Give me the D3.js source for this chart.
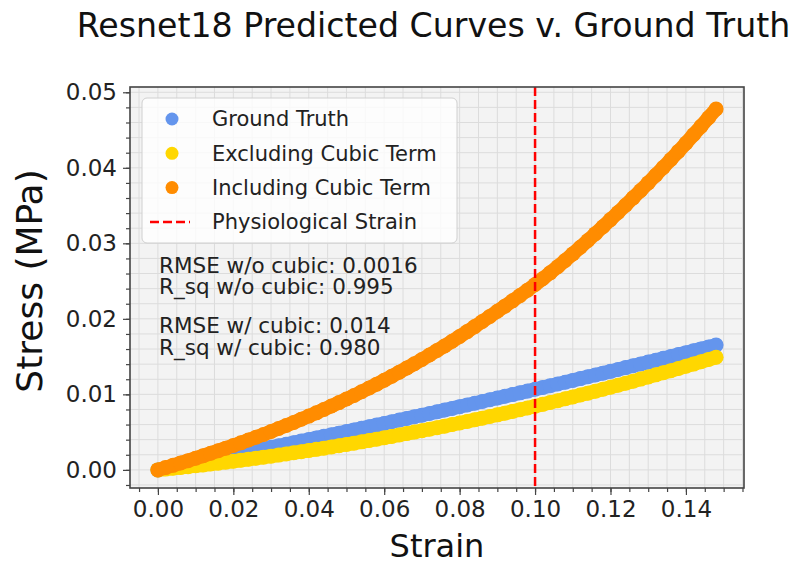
<!DOCTYPE html>
<html lang="en">
<head>
<meta charset="UTF-8">
<script src="https://d3js.org/d3.v7.min.js"></script>
<style>
  body { margin: 0; background: #fff; }
  svg { display: block; font-family: "DejaVu Sans", sans-serif; }
</style>
</head>
<body>
<svg width="794" height="564"></svg>
<script>
// strain samples (x) and the three stress curves
const strain = [0, 0.002, 0.004, 0.006, 0.008, 0.010, 0.012, 0.014, 0.016, 0.018,
  0.020, 0.022, 0.024, 0.026, 0.028, 0.030, 0.032, 0.034, 0.036, 0.038,
  0.040, 0.042, 0.044, 0.046, 0.048, 0.050, 0.052, 0.054, 0.056, 0.058,
  0.060, 0.062, 0.064, 0.066, 0.068, 0.070, 0.072, 0.074, 0.076, 0.078,
  0.080, 0.082, 0.084, 0.086, 0.088, 0.090, 0.092, 0.094, 0.096, 0.098,
  0.100, 0.102, 0.104, 0.106, 0.108, 0.110, 0.112, 0.114, 0.116, 0.118,
  0.120, 0.122, 0.124, 0.126, 0.128, 0.130, 0.132, 0.134, 0.136, 0.138,
  0.140, 0.142, 0.144, 0.146, 0.148];

const groundTruth = [0, 0.00019, 0.00039, 0.00058, 0.00078, 0.00097, 0.00117, 0.00137, 0.00157, 0.00177,
  0.00197, 0.00217, 0.00237, 0.00257, 0.00278, 0.00298, 0.00319, 0.00339, 0.00360, 0.00381,
  0.00402, 0.00423, 0.00444, 0.00465, 0.00486, 0.00507, 0.00529, 0.00550, 0.00572, 0.00593,
  0.00615, 0.00637, 0.00659, 0.00681, 0.00703, 0.00725, 0.00747, 0.00769, 0.00792, 0.00814,
  0.00837, 0.00859, 0.00882, 0.00905, 0.00928, 0.00951, 0.00974, 0.00997, 0.01020, 0.01043,
  0.01067, 0.01090, 0.01114, 0.01137, 0.01161, 0.01185, 0.01209, 0.01233, 0.01257, 0.01281,
  0.01305, 0.01329, 0.01354, 0.01378, 0.01403, 0.01427, 0.01452, 0.01477, 0.01502, 0.01527,
  0.01552, 0.01577, 0.01602, 0.01627, 0.01653];

const noCubic = [0, 0.00010, 0.00021, 0.00031, 0.00043, 0.00054, 0.00065, 0.00077, 0.00089, 0.00102,
  0.00114, 0.00127, 0.00141, 0.00154, 0.00168, 0.00182, 0.00196, 0.00211, 0.00226, 0.00241,
  0.00256, 0.00272, 0.00288, 0.00304, 0.00320, 0.00337, 0.00354, 0.00371, 0.00389, 0.00407,
  0.00425, 0.00443, 0.00462, 0.00481, 0.00500, 0.00519, 0.00539, 0.00559, 0.00579, 0.00600,
  0.00621, 0.00642, 0.00663, 0.00685, 0.00707, 0.00729, 0.00751, 0.00774, 0.00797, 0.00820,
  0.00844, 0.00868, 0.00892, 0.00916, 0.00941, 0.00966, 0.00991, 0.01016, 0.01042, 0.01068,
  0.01094, 0.01121, 0.01148, 0.01175, 0.01202, 0.01230, 0.01258, 0.01286, 0.01314, 0.01343,
  0.01372, 0.01401, 0.01431, 0.01461, 0.01491];

const withCubic = [0, 0.00030, 0.00060, 0.00091, 0.00122, 0.00154, 0.00187, 0.00220, 0.00254, 0.00288,
  0.00323, 0.00358, 0.00395, 0.00432, 0.00469, 0.00508, 0.00547, 0.00587, 0.00628, 0.00670,
  0.00712, 0.00755, 0.00800, 0.00845, 0.00891, 0.00938, 0.00985, 0.01034, 0.01084, 0.01135,
  0.01187, 0.01240, 0.01294, 0.01349, 0.01405, 0.01462, 0.01521, 0.01580, 0.01641, 0.01703,
  0.01766, 0.01831, 0.01897, 0.01964, 0.02032, 0.02100, 0.02168, 0.02238, 0.02308, 0.02380,
  0.02454, 0.02530, 0.02609, 0.02690, 0.02774, 0.02860, 0.02948, 0.03037, 0.03128, 0.03220,
  0.03314, 0.03408, 0.03504, 0.03602, 0.03700, 0.03800, 0.03902, 0.04005, 0.04110, 0.04217,
  0.04326, 0.04437, 0.04549, 0.04663, 0.04779];

const seriesNames = ['Ground Truth', 'Excluding Cubic Term', 'Including Cubic Term'];
const seriesColors = ['#6495ed', '#ffd700', '#ff8c00'];
const physStrain = 0.10;

const xTicks = [0, 0.02, 0.04, 0.06, 0.08, 0.10, 0.12, 0.14];
const yTicks = [0, 0.01, 0.02, 0.03, 0.04, 0.05];

const stats = ['RMSE w/o cubic: 0.0016', 'R_sq w/o cubic: 0.995',
  'RMSE w/ cubic: 0.014', 'R_sq w/ cubic: 0.980'];

const box = { left: 130, right: 744, top: 87, bottom: 488 };
const radius = 7.5;

const svg = d3.select('svg');

const x = d3.scaleLinear().domain([-0.0074, 0.1554]).range([box.left, box.right]);
const y = d3.scaleLinear().domain([-0.0024, 0.0507]).range([box.bottom, box.top]);

const xMinor = d3.range(-0.005, 0.156, 0.005);
const yMinor = d3.range(-0.002, 0.0507, 0.002);

// panel
svg.append('rect')
  .attr('x', box.left).attr('y', box.top)
  .attr('width', box.right - box.left).attr('height', box.bottom - box.top)
  .attr('fill', '#f3f3f3');

const grid = svg.append('g').attr('stroke', '#dcdcdc').attr('stroke-width', 1);
grid.selectAll('.gx').data(xMinor).enter().append('line')
  .attr('x1', d => x(d)).attr('x2', d => x(d))
  .attr('y1', box.top).attr('y2', box.bottom);
grid.selectAll('.gy').data(yMinor).enter().append('line')
  .attr('y1', d => y(d)).attr('y2', d => y(d))
  .attr('x1', box.left).attr('x2', box.right);

// scatter series (dense markers merge into a band)
const series = [groundTruth, noCubic, withCubic];
const band = d3.line().x(d => x(d[0])).y(d => y(d[1]));
series.forEach((vals, k) => {
  const pts = strain.map((s, i) => [s, vals[i]]);
  const g = svg.append('g');
  g.append('path')
    .attr('d', band(pts))
    .attr('fill', 'none')
    .attr('stroke', seriesColors[k])
    .attr('stroke-width', radius * 2 - 1)
    .attr('stroke-linecap', 'round')
    .attr('stroke-linejoin', 'round');
  g.selectAll('circle')
    .data(pts)
    .enter().append('circle')
    .attr('cx', d => x(d[0]))
    .attr('cy', d => y(d[1]))
    .attr('r', radius)
    .attr('fill', seriesColors[k]);
});

// physiological strain line
svg.append('line')
  .attr('x1', x(physStrain)).attr('x2', x(physStrain))
  .attr('y1', box.top).attr('y2', box.bottom)
  .attr('stroke', '#ff0000').attr('stroke-width', 2.5)
  .attr('stroke-dasharray', '9,4');

// axes
const axisColor = '#444';
const xAxis = svg.append('g').attr('transform', `translate(0,${box.bottom})`);
xAxis.call(d3.axisBottom(x).tickValues(xMinor).tickSize(4).tickFormat(''));
xAxis.append('g').call(d3.axisBottom(x).tickValues(xTicks).tickSize(7).tickPadding(6)
  .tickFormat(d3.format('.2f')));

const yAxis = svg.append('g').attr('transform', `translate(${box.left},0)`);
yAxis.call(d3.axisLeft(y).tickValues(yMinor).tickSize(4).tickFormat(''));
yAxis.append('g').call(d3.axisLeft(y).tickValues(yTicks).tickSize(7).tickPadding(6)
  .tickFormat(d3.format('.2f')));

svg.selectAll('.domain').remove();
svg.selectAll('.tick line').attr('stroke', axisColor).attr('stroke-width', 1.2);
svg.selectAll('.tick text')
  .attr('font-family', 'DejaVu Sans').attr('font-size', 23).attr('fill', '#222');

svg.append('rect')
  .attr('x', box.left).attr('y', box.top)
  .attr('width', box.right - box.left).attr('height', box.bottom - box.top)
  .attr('fill', 'none').attr('stroke', axisColor).attr('stroke-width', 1.6);

// legend
const lg = svg.append('g');
lg.append('rect')
  .attr('x', 142).attr('y', 98).attr('width', 315).attr('height', 145)
  .attr('rx', 5).attr('fill', '#fff').attr('fill-opacity', 0.8)
  .attr('stroke', '#d0d0d0');
const legendItems = seriesNames.map((n, i) => ({ name: n, color: seriesColors[i], dash: false }))
  .concat([{ name: 'Physiological Strain', color: '#ff0000', dash: true }]);
legendItems.forEach((d, i) => {
  const cy = 119 + i * 34.3;
  if (d.dash) {
    lg.append('line').attr('x1', 150).attr('x2', 190).attr('y1', cy).attr('y2', cy)
      .attr('stroke', d.color).attr('stroke-width', 2.5).attr('stroke-dasharray', '9,4');
  } else {
    lg.append('circle').attr('cx', 172).attr('cy', cy).attr('r', 6.5).attr('fill', d.color);
  }
  lg.append('text').attr('x', 212).attr('y', cy).attr('dy', '0.35em')
    .attr('font-size', 21).attr('fill', '#222').text(d.name);
});

// fit statistics
const statY = [273, 294, 333, 355];
svg.append('g').selectAll('text')
  .data(stats).enter().append('text')
  .attr('x', 159).attr('y', (d, i) => statY[i])
  .attr('font-size', 21.5).attr('fill', '#222')
  .text(d => d);

// titles
svg.append('text')
  .attr('x', 433.5).attr('y', 37).attr('text-anchor', 'middle')
  .attr('font-size', 33.2).attr('fill', '#111')
  .text('Resnet18 Predicted Curves v. Ground Truth');

svg.append('text')
  .attr('x', 437).attr('y', 557).attr('text-anchor', 'middle')
  .attr('font-size', 32).attr('fill', '#111')
  .text('Strain');

svg.append('text')
  .attr('transform', `translate(42,281) rotate(-90)`)
  .attr('text-anchor', 'middle')
  .attr('font-size', 36).attr('fill', '#111')
  .text('Stress (MPa)');
</script>
</body>
</html>
